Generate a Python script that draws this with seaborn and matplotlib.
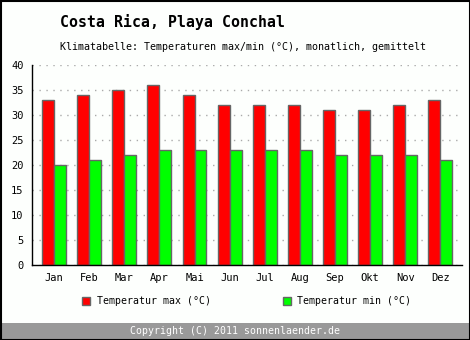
import matplotlib
matplotlib.use("Agg")
import matplotlib.pyplot as plt
from matplotlib.patches import Rectangle
import seaborn as sns
import pandas as pd

months = ["Jan", "Feb", "Mar", "Apr", "Mai", "Jun", "Jul", "Aug", "Sep", "Okt", "Nov", "Dez"]
temp_max = [33, 34, 35, 36, 34, 32, 32, 32, 31, 31, 32, 33]
temp_min = [20, 21, 22, 23, 23, 23, 23, 23, 22, 22, 22, 21]
series_names = ["Temperatur max (°C)", "Temperatur min (°C)"]
series_colors = ["#ff0000", "#00ff00"]
y_ticks = [0, 5, 10, 15, 20, 25, 30, 35, 40]

df = pd.DataFrame({
    "Monat": months * 2,
    "Wert": temp_max + temp_min,
    "Reihe": [series_names[0]] * 12 + [series_names[1]] * 12,
})

sns.set_style("white")
plt.rcParams["font.family"] = ["DejaVu Sans Mono", "DejaVu Sans"]
plt.rcParams["text.color"] = "black"
plt.rcParams["xtick.color"] = "black"
plt.rcParams["ytick.color"] = "black"

fig = plt.figure(figsize=(4.7, 3.4), dpi=100)
fig.patch.set_facecolor("#fdfffd")
ax = fig.add_axes([32 / 470, 75 / 340, 430 / 470, 200 / 340])
ax.set_facecolor("#fdfffd")

sns.barplot(data=df, x="Monat", y="Wert", hue="Reihe", order=months,
            hue_order=series_names, palette=series_colors, width=0.68,
            edgecolor="#666666", linewidth=1.0, saturation=1, ax=ax, legend=False)

ax.set_xlim(-0.63, 11.62)
ax.set_ylim(0, 40)
ax.set_yticks(y_ticks)
ax.set_yticklabels([str(v) for v in y_ticks], fontsize=7.5)
ax.tick_params(axis="y", length=4, width=1, color="black", pad=2)
ax.tick_params(axis="x", length=0, pad=6, labelsize=7.5)
ax.set_xlabel("")
ax.set_ylabel("")
ax.yaxis.grid(True, linestyle=(0, (1, 4)), color="#aaaaaa", linewidth=1)
ax.set_axisbelow(True)
for side in ["top", "right"]:
    ax.spines[side].set_visible(False)
for side in ["left", "bottom"]:
    ax.spines[side].set_color("black")
    ax.spines[side].set_linewidth(1)

# titles
fig.text(60 / 470, 1 - 22 / 340, "Costa Rica, Playa Conchal", fontsize=10.7,
         fontweight="bold", va="center", ha="left")
fig.text(60 / 470, 1 - 47 / 340,
         "Klimatabelle: Temperaturen max/min (°C), monatlich, gemittelt",
         fontsize=7.2, va="center", ha="left")

# legend
for (lx, tx), name, col in zip([(82, 97), (283, 297)], series_names, series_colors):
    fig.patches.append(Rectangle((lx / 470, 1 - 305 / 340), 8 / 470, 8 / 340,
                                 transform=fig.transFigure, facecolor=col,
                                 edgecolor="#666666", linewidth=1))
    fig.text(tx / 470, 1 - 301 / 340, name, fontsize=7.1, va="center", ha="left")

# footer band
fig.patches.append(Rectangle((0, 0), 1, 17 / 340, transform=fig.transFigure,
                             facecolor="#999999", edgecolor="none"))
fig.text(0.5, 8.5 / 340, "Copyright (C) 2011 sonnenlaender.de", color="white",
         fontsize=7.1, ha="center", va="center")

# outer frame
fig.patches.append(Rectangle((0.5 / 470, 0.5 / 340), 469 / 470, 339 / 340,
                             transform=fig.transFigure, facecolor="none",
                             edgecolor="black", linewidth=1.5))

fig.savefig("out.png", dpi=100, facecolor=fig.get_facecolor())
